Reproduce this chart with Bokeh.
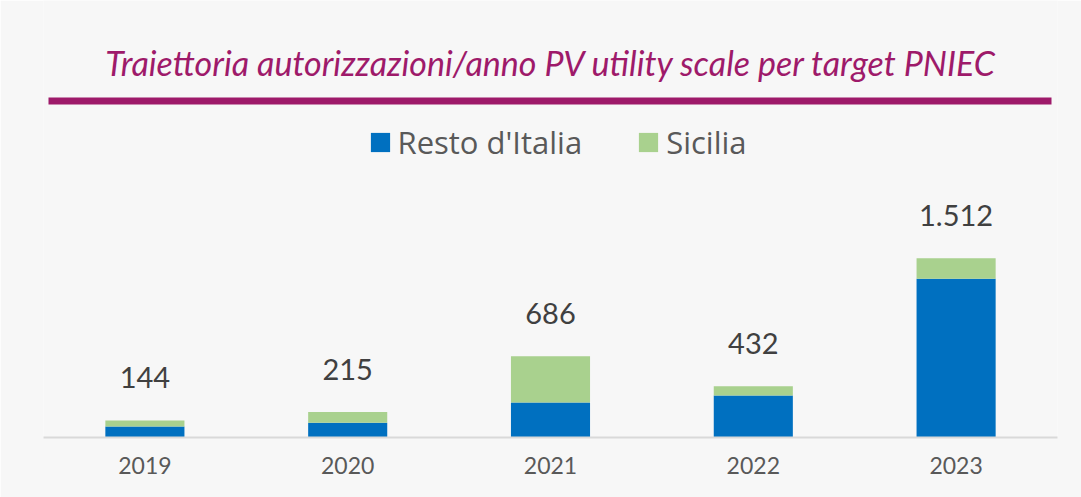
from bokeh.plotting import figure
from bokeh.models import (FactorRange, Range1d, Label, LabelSet, Legend, LegendItem,
                          BoxAnnotation, ColumnDataSource)
from bokeh.core.properties import value
from bokeh.embed import file_html
from bokeh.resources import INLINE

years = ["2019", "2020", "2021", "2022", "2023"]
resto = [93, 124, 295, 354, 1339]
sicilia = [51, 91, 391, 78, 173]
series_names = ["Resto d'Italia", "Sicilia"]
title_text = "Traiettoria autorizzazioni/anno PV utility scale per target PNIEC"

totals = [r + s for r, s in zip(resto, sicilia)]
total_labels = [f"{t:,}".replace(",", ".") for t in totals]

BG = "#f7f7f7"
BLUE = "#0070c0"
GREEN = "#a9d18e"
PURPLE = "#9e1a6a"
FONT = "Lato"

W, H = 1081, 497
BL, BR, BT, BB = 43, 24, 0, 60
frame_h = H - BT - BB
px_per_unit = 0.11858

p = figure(width=W, height=H, x_range=FactorRange(*years),
           y_range=Range1d(0, frame_h / px_per_unit),
           output_backend="svg", toolbar_location=None,
           min_border_left=BL, min_border_right=BR, min_border_top=BT, min_border_bottom=BB,
           background_fill_color=BG, border_fill_color=BG, outline_line_color=None)

src = ColumnDataSource(dict(years=years, resto=resto, sicilia=sicilia,
                            total=totals, label=total_labels))
rs = p.vbar_stack(["resto", "sicilia"], x="years", width=0.39, source=src,
                  color=[BLUE, GREEN], line_color=None)

labels = LabelSet(x="years", y="total", text="label", source=src, y_offset=32,
                  text_align="center", text_baseline="alphabetic",
                  text_font=value(FONT), text_font_size=value("29px"), text_color="#404040")
p.add_layout(labels)

p.yaxis.visible = False
p.ygrid.visible = False
p.xgrid.visible = False
xa = p.xaxis[0]
xa.axis_line_color = "#d9d9d9"
xa.axis_line_width = 2
xa.major_tick_line_color = None
xa.minor_tick_line_color = None
xa.major_label_text_font = FONT
xa.major_label_text_font_size = "23px"
xa.major_label_text_color = "#595959"
xa.major_label_standoff = 13

# title and rule
p.add_layout(Label(x=508, y=frame_h - 62, x_units="screen", y_units="screen",
                   text=title_text, text_align="center", text_baseline="alphabetic",
                   text_font=FONT, text_font_style="italic", text_font_size="34px",
                   text_color=PURPLE))
p.add_layout(BoxAnnotation(left=5, right=1008, top=frame_h - 97, bottom=frame_h - 104,
                           left_units="screen", right_units="screen",
                           top_units="screen", bottom_units="screen",
                           fill_color=PURPLE, fill_alpha=1, line_color=None))

legend = Legend(items=[LegendItem(label=series_names[0], renderers=[rs[0]]),
                       LegendItem(label=series_names[1], renderers=[rs[1]])],
                orientation="horizontal", location=(324.5, frame_h - 163),
                glyph_width=24, glyph_height=24, label_standoff=6, spacing=54,
                padding=0, margin=0, border_line_color=None, background_fill_alpha=0,
                label_text_font="Open Sans", label_text_font_size="31px",
                label_text_color="#595959")
p.add_layout(legend)

open("out.html", "w").write(file_html(p, INLINE))
